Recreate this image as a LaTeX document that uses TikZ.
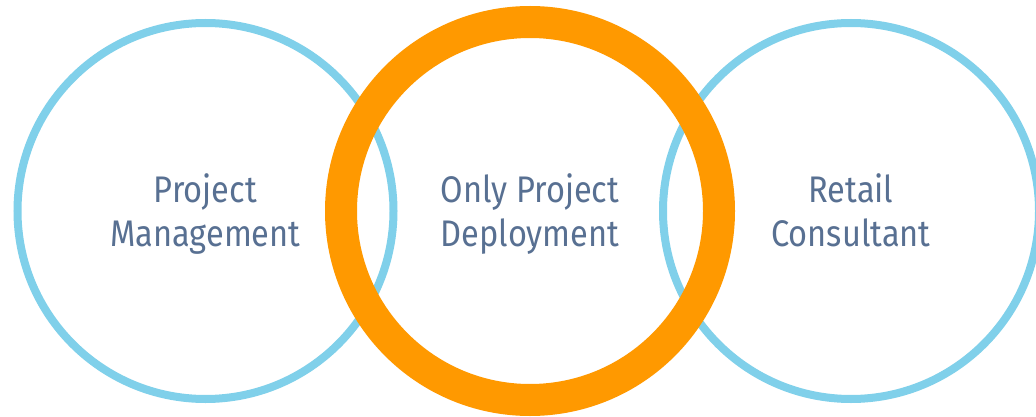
\documentclass[tikz,border=0pt]{standalone}
\usepackage{fontspec}
\setmainfont{Fira Sans}[FakeStretch=0.88]
\definecolor{ringblue}{RGB}{128,208,234}
\definecolor{ringorange}{RGB}{255,153,0}
\definecolor{labeltext}{RGB}{88,112,146}
\tikzset{
  labelfont/.style={align=center, text=labeltext, font=\fontsize{37}{44}\selectfont,
    text height=78pt, text depth=8pt},
  ring/.style={circle, draw=ringblue, line width=8pt, minimum size=376pt, inner sep=0pt, labelfont},
  focusring/.style={circle, draw=ringorange, line width=32pt, minimum size=378pt, inner sep=0pt, labelfont}
}
\begin{document}
\begin{tikzpicture}[x=1pt,y=-1pt]
\fill[white] (0,0) rectangle (1036,417);
\useasboundingbox (0,0) rectangle (1036,417);
\clip (0,0) rectangle (1036,417);
\node[ring] (pm) at (205.5,211) {Project\\Management};
\node[ring] (rc) at (851,211) {Retail\\Consultant};
\node[focusring] (opd) at (530,211) {Only Project\\Deployment};
\end{tikzpicture}
\end{document}
